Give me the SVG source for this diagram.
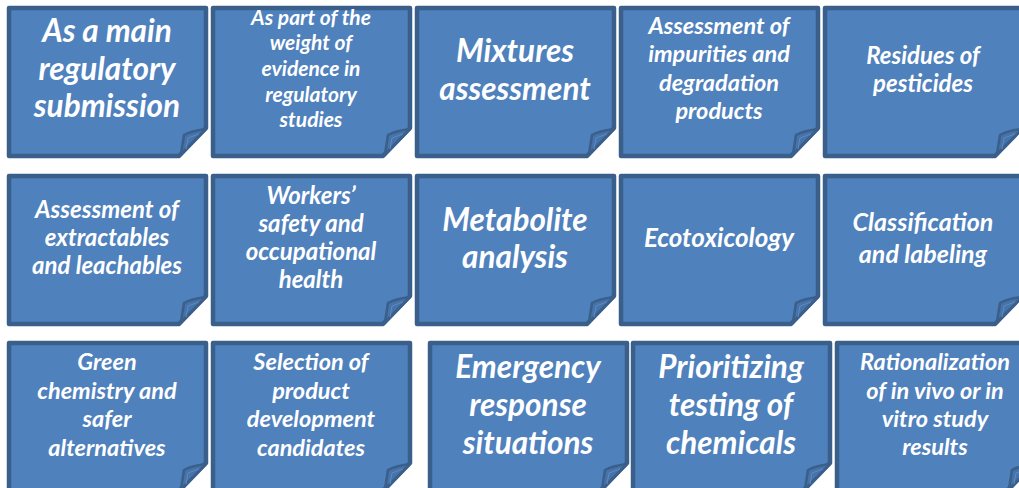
<svg xmlns="http://www.w3.org/2000/svg" xmlns:xlink="http://www.w3.org/1999/xlink" width="1019" height="488" viewBox="0 0 1019 488">
  <style>
    .note { fill: #4f81bd; stroke: #3a5f8b; stroke-width: 4.5; stroke-linejoin: round; }
    .flap { fill: #4673aa; stroke: #3a5f8b; stroke-width: 2.5; stroke-linejoin: round; }
    .crease { fill: none; stroke: #5f89bf; stroke-width: 1; }
    text { font-family: Lato, "Liberation Sans", sans-serif; font-weight: bold; font-style: italic; fill: #ffffff; text-anchor: middle; }
    .xl { font-size: 31.5px; }
    .l { font-size: 24px; }
    .m { font-size: 23.5px; }
    .s { font-size: 21px; }
    .eco { font-size: 26px; }
    .cls { font-size: 25px; }
  </style>
  <defs>
    <!-- sticky note with its lower-right corner turned up -->
    <g id="sticky">
      <path class="note" d="M0,0 H197 V120 L170,148 H0 Z"/>
      <path class="flap" d="M172,146 L175,127 Q182,123 197,121 Z"/>
      <path class="crease" d="M177,141 L179,130 L190,126"/>
    </g>
  </defs>

  <!-- row 1 -->
  <g id="main-submission" transform="translate(9,8)">
    <use xlink:href="#sticky"/>
    <text class="xl" x="98" y="34">As a main</text>
    <text class="xl" x="98" y="72">regulatory</text>
    <text class="xl" x="98" y="109">submission</text>
  </g>
  <g id="weight-of-evidence" transform="translate(213,8)">
    <use xlink:href="#sticky"/>
    <text class="s" x="98" y="17">As part of the</text>
    <text class="s" x="98" y="42">weight of</text>
    <text class="s" x="98" y="68">evidence in</text>
    <text class="s" x="98" y="94">regulatory</text>
    <text class="s" x="98" y="119">studies</text>
  </g>
  <g id="mixtures" transform="translate(417,8)">
    <use xlink:href="#sticky"/>
    <text class="xl" x="98" y="54">Mixtures</text>
    <text class="xl" x="98" y="92">assessment</text>
  </g>
  <g id="impurities" transform="translate(621,8)">
    <use xlink:href="#sticky"/>
    <text class="m" x="98" y="26">Assessment of</text>
    <text class="m" x="98" y="54">impurities and</text>
    <text class="m" x="98" y="83">degradation</text>
    <text class="m" x="98" y="111">products</text>
  </g>
  <g id="pesticides" transform="translate(825,8)">
    <use xlink:href="#sticky"/>
    <text class="l" x="98" y="56">Residues of</text>
    <text class="l" x="98" y="84">pesticides</text>
  </g>

  <!-- row 2 -->
  <g id="extractables" transform="translate(9,176)">
    <use xlink:href="#sticky"/>
    <text class="l" x="98" y="42">Assessment of</text>
    <text class="l" x="98" y="70">extractables</text>
    <text class="l" x="98" y="98">and leachables</text>
  </g>
  <g id="workers-safety" transform="translate(213,176)">
    <use xlink:href="#sticky"/>
    <text class="l" x="98" y="28">Workers’</text>
    <text class="l" x="98" y="56">safety and</text>
    <text class="l" x="98" y="84">occupational</text>
    <text class="l" x="98" y="112">health</text>
  </g>
  <g id="metabolite" transform="translate(417,176)">
    <use xlink:href="#sticky"/>
    <text class="xl" x="98" y="55">Metabolite</text>
    <text class="xl" x="98" y="92">analysis</text>
  </g>
  <g id="ecotoxicology" transform="translate(621,176)">
    <use xlink:href="#sticky"/>
    <text class="eco" x="98" y="71">Ecotoxicology</text>
  </g>
  <g id="classification" transform="translate(825,176)">
    <use xlink:href="#sticky"/>
    <text class="cls" x="98" y="55">Classification</text>
    <text class="cls" x="98" y="87">and labeling</text>
  </g>

  <!-- row 3 -->
  <g id="green-chemistry" transform="translate(9,343)">
    <use xlink:href="#sticky"/>
    <text class="m" x="98" y="27">Green</text>
    <text class="m" x="98" y="56">chemistry and</text>
    <text class="m" x="98" y="84">safer</text>
    <text class="m" x="98" y="113">alternatives</text>
  </g>
  <g id="product-candidates" transform="translate(213,343)">
    <use xlink:href="#sticky"/>
    <text class="m" x="98" y="27">Selection of</text>
    <text class="m" x="98" y="56">product</text>
    <text class="m" x="98" y="84">development</text>
    <text class="m" x="98" y="113">candidates</text>
  </g>
  <g id="emergency" transform="translate(430,343)">
    <use xlink:href="#sticky"/>
    <text class="xl" x="98" y="35">Emergency</text>
    <text class="xl" x="98" y="73">response</text>
    <text class="xl" x="98" y="111">situations</text>
  </g>
  <g id="prioritizing" transform="translate(633,343)">
    <use xlink:href="#sticky"/>
    <text class="xl" x="98" y="35">Prioritizing</text>
    <text class="xl" x="98" y="73">testing of</text>
    <text class="xl" x="98" y="111">chemicals</text>
  </g>
  <g id="rationalization" transform="translate(837,343)">
    <use xlink:href="#sticky"/>
    <text class="m" x="98" y="27">Rationalization</text>
    <text class="m" x="98" y="56">of in vivo or in</text>
    <text class="m" x="98" y="84">vitro study</text>
    <text class="m" x="98" y="112">results</text>
  </g>

  <!-- no connectors in this layout -->
  <g id="connectors"/>
</svg>
